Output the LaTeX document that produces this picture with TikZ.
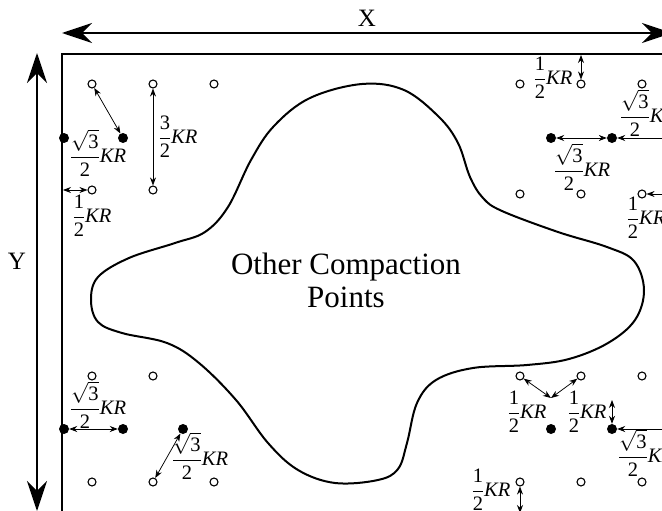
\documentclass[tikz,border=0pt]{standalone}
\usepackage{amsmath}
\usepackage{fontspec}
\setmainfont{Liberation Serif}
\usetikzlibrary{arrows.meta}
\newcommand{\halfKR}[1]{$\dfrac{\text{#1}}{\text{2}}\text{\itshape KR}$}
\newcommand{\rootKR}{$\dfrac{\sqrt{\text{3}}}{\text{2}}\text{\itshape KR}$}

\begin{document}
\begin{tikzpicture}[x=1pt,y=-1pt,
 hollowpt/.style={circle,draw,line width=1.1pt,inner sep=0pt,minimum size=8pt},
 filledpt/.style={circle,fill,inner sep=0pt,minimum size=10pt},
 dimlbl/.style={font=\fontsize{20.5}{22}\selectfont,inner sep=0pt},
 axislbl/.style={font=\fontsize{25}{27}\selectfont,inner sep=0pt},
 darr/.style={{Stealth[length=8pt,width=6pt]}-{Stealth[length=8pt,width=6pt]},line width=.75pt},
 bigarr/.style={{Stealth[length=30pt,width=20pt]}-{Stealth[length=30pt,width=20pt]},line width=1.6pt}]
\useasboundingbox (0,0) rectangle (662,511);
\clip (0,0) rectangle (662,511);
\draw[line width=1.8pt] (62,54) rectangle (673,514);
\coordinate (xl) at (62,33);
\coordinate (xr) at (672,33);
\coordinate (yt) at (37,53);
\coordinate (yb) at (37,511);
\draw[bigarr] (xl)--(xr);
\draw[bigarr] (yt)--(yb);
\node[axislbl] (xlab) at (367,18) {X};
\node[axislbl] (ylab) at (17,261) {Y};
\draw[line width=2pt] plot[smooth cycle,tension=.6] coordinates {
 (362,84) (404,90) (439,117) (458,143) (470,177) (483,198) (502,211)
 (558,232) (607,247) (634,261) (644,290) (635,320) (608,343) (569,359)
 (527,365) (473,368) (436,380) (417,403) (407,443) (398,469) (378,480)
 (335,483) (298,470) (268,443) (236,400) (199,363) (167,343) (122,333)
 (98,322) (91,300) (98,277) (129,258) (175,243) (205,232) (228,207)
 (251,160) (274,126) (310,98)};
\node[align=center,font=\fontsize{31}{33}\selectfont] (blob) at (346,280) {Other Compaction\\Points};
\node[hollowpt] (o1) at (92,84) {};
\node[hollowpt] (o2) at (153,84) {};
\node[hollowpt] (o3) at (214,84) {};
\node[hollowpt] (o4) at (92,190) {};
\node[hollowpt] (o5) at (153,190) {};
\node[hollowpt] (o6) at (520,84) {};
\node[hollowpt] (o7) at (581,84) {};
\node[hollowpt] (o8) at (642,84) {};
\node[hollowpt] (o9) at (520,194) {};
\node[hollowpt] (o10) at (581,194) {};
\node[hollowpt] (o11) at (642,194) {};
\node[hollowpt] (o12) at (92,376) {};
\node[hollowpt] (o13) at (153,376) {};
\node[hollowpt] (o14) at (92,482) {};
\node[hollowpt] (o15) at (153,482) {};
\node[hollowpt] (o16) at (214,482) {};
\node[hollowpt] (o17) at (520,376) {};
\node[hollowpt] (o18) at (581,376) {};
\node[hollowpt] (o19) at (642,376) {};
\node[hollowpt] (o20) at (520,482) {};
\node[hollowpt] (o21) at (581,482) {};
\node[hollowpt] (o22) at (642,482) {};
\node[filledpt] (f1) at (64,138) {};
\node[filledpt] (f2) at (123,138) {};
\node[filledpt] (f3) at (551,138) {};
\node[filledpt] (f4) at (612,138) {};
\node[filledpt] (f5) at (64,429) {};
\node[filledpt] (f6) at (123,429) {};
\node[filledpt] (f7) at (183,429) {};
\node[filledpt] (f8) at (551,429) {};
\node[filledpt] (f9) at (612,429) {};
\coordinate (edge1) at (63,190);
\coordinate (edge2) at (581,55);
\coordinate (edge3) at (674,138);
\coordinate (edge4) at (674,194);
\coordinate (edge5) at (674,429);
\coordinate (edge6) at (520,513);
\coordinate (apex) at (551,398);
\coordinate (top9) at (612,400);
\draw[darr] (o1)--(f2);
\draw[darr] (o2)--(o5);
\draw[darr] (edge1)--(o4);
\draw[darr] (edge2)--(o7);
\draw[darr] (f3)--(f4);
\draw[darr] (f4)--(edge3);
\draw[darr] (edge4)--(o11);
\draw[darr] (f5)--(f6);
\draw[darr] (f7)--(o15);
\draw[darr] (o17)--(apex);
\draw[darr] (o18)--(apex);
\draw[darr] (f9)--(top9);
\draw[darr] (f9)--(edge5);
\draw[darr] (o20)--(edge6);
\node[dimlbl] (l1) at (98,153) {\rootKR};
\node[dimlbl] (l2) at (178,137) {\halfKR{3}};
\node[dimlbl] (l3) at (92,216) {\halfKR{1}};
\node[dimlbl] (l4) at (553,78) {\halfKR{1}};
\node[dimlbl] (l5) at (582,167) {\rootKR};
\node[dimlbl] (l6) at (648,113) {\rootKR};
\node[dimlbl] (l7) at (646,218) {\halfKR{1}};
\node[dimlbl] (l8) at (98,405) {\rootKR};
\node[dimlbl] (l9) at (200,456) {\rootKR};
\node[dimlbl] (l10) at (527,412) {\halfKR{1}};
\node[dimlbl] (l11) at (587,412) {\halfKR{1}};
\node[dimlbl] (l12) at (646,453) {\rootKR};
\node[dimlbl] (l13) at (491,490) {\halfKR{1}};
\end{tikzpicture}
\end{document}
